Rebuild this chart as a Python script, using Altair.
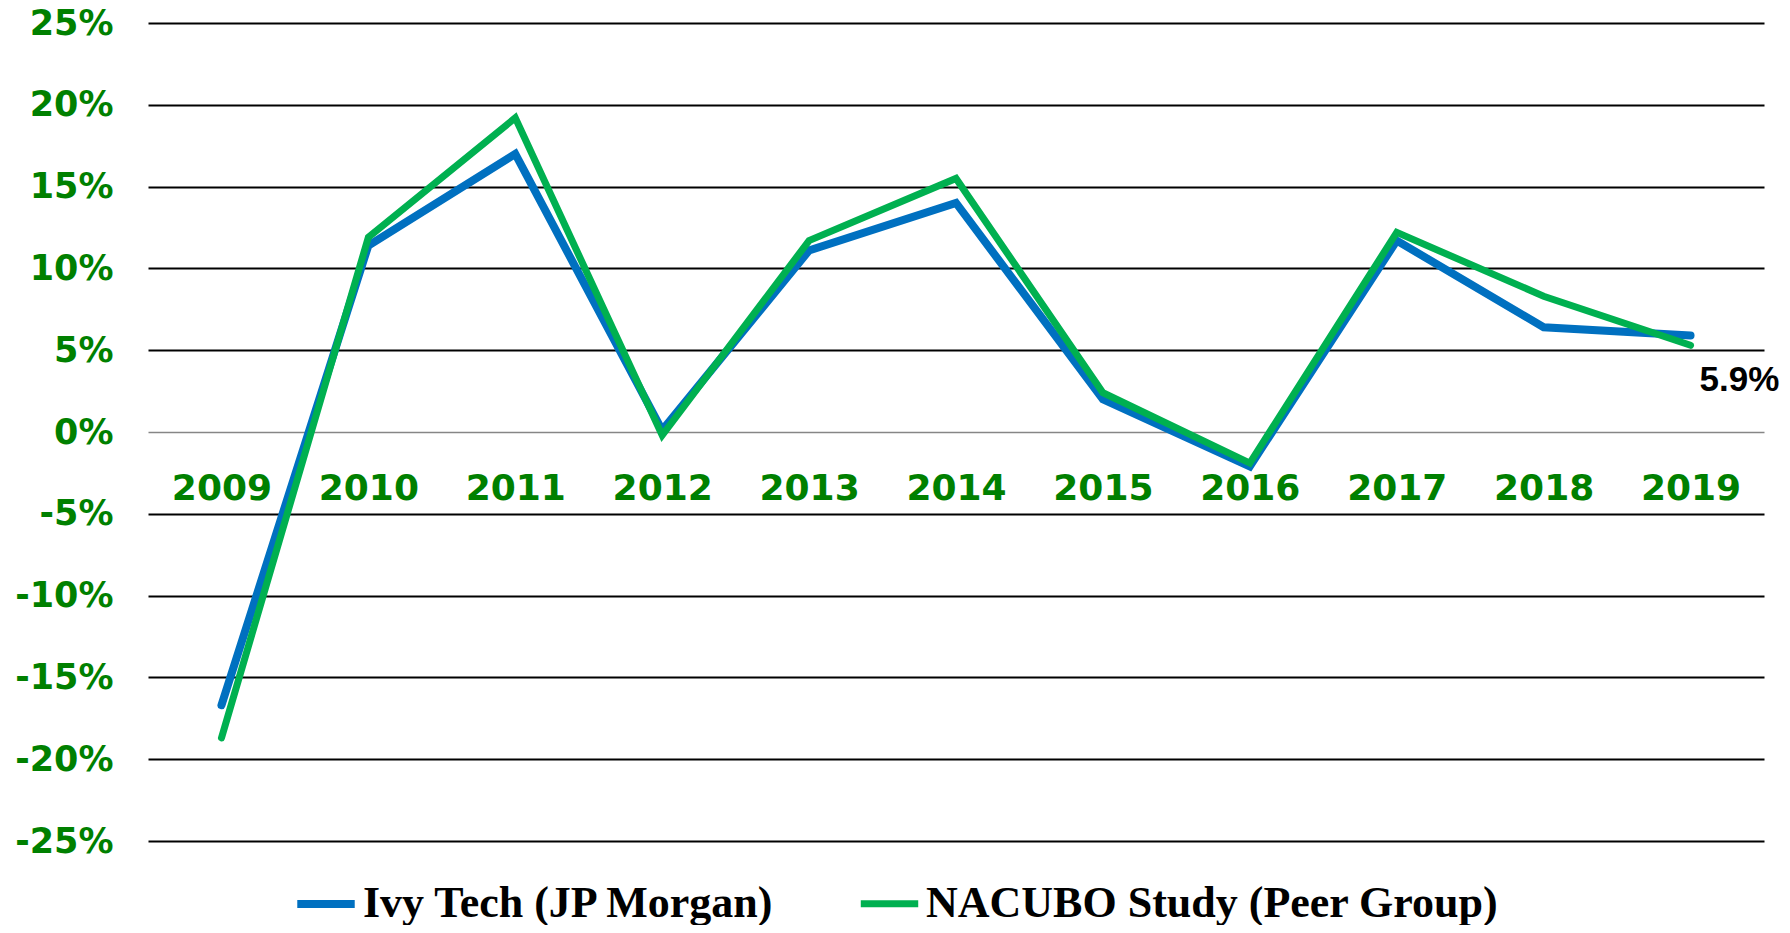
import altair as alt
import pandas as pd

years = ["2009", "2010", "2011", "2012", "2013", "2014", "2015", "2016", "2017", "2018", "2019"]
series_names = ["Ivy Tech (JP Morgan)", "NACUBO Study (Peer Group)"]
ivy_tech = [-16.7, 11.4, 17.0, 0.1, 11.1, 14.0, 2.0, -2.1, 11.7, 6.4, 5.9]
nacubo = [-18.7, 11.9, 19.2, -0.2, 11.7, 15.5, 2.4, -1.9, 12.2, 8.3, 5.3]
colors = ["#0070C0", "#00B050"]
widths = [8, 7]
y_ticks = [-25, -20, -15, -10, -5, 0, 5, 10, 15, 20, 25]
last_label = "5.9%"

rows = []
for name, vals in zip(series_names, [ivy_tech, nacubo]):
    for yr, v in zip(years, vals):
        rows.append({"year": yr, "value": v, "series": name})
df = pd.DataFrame(rows)
label_df = pd.DataFrame([{"year": years[-1], "value": ivy_tech[-1], "text": last_label}])

x_enc = alt.X(
    "year:O",
    scale=alt.Scale(type="point", padding=0.5, domain=years),
    axis=alt.Axis(
        title=None, orient="bottom", offset=-409, labelAngle=0,
        labelFont="DejaVu Sans", labelFontWeight="bold", labelFontSize=36,
        labelColor="#008000", labelPadding=39, ticks=False, tickSize=0,
        domain=True, domainColor="#868686", domainWidth=1.5, grid=False,
    ),
)
y_enc = alt.Y(
    "value:Q",
    scale=alt.Scale(domain=[-25, 25], nice=False, zero=False),
    axis=alt.Axis(
        title=None, values=y_ticks, labelExpr="datum.value + '%'",
        labelFont="DejaVu Sans", labelFontWeight="bold", labelFontSize=35,
        labelColor="#008000", labelPadding=35, ticks=False, tickSize=0,
        domain=False, grid=True, gridColor="black", gridWidth=2,
        gridOpacity={"condition": {"test": "datum.value === 0", "value": 0}, "value": 1},
    ),
)

lines = alt.Chart(df).mark_line(strokeCap="round", strokeJoin="miter").encode(
    x=x_enc,
    y=y_enc,
    color=alt.Color(
        "series:N",
        scale=alt.Scale(domain=series_names, range=colors),
        legend=alt.Legend(
            title=None, orient="none", direction="horizontal",
            legendX=145, legendY=848, padding=0,
            symbolType="stroke", symbolSize=3300, symbolStrokeWidth=9,
            labelFont="Liberation Serif", labelFontWeight="bold", labelFontSize=44,
            labelColor="black", labelOffset=4, columnPadding=70,
            labelLimit=1000,
        ),
    ),
    strokeWidth=alt.StrokeWidth(
        "series:N", scale=alt.Scale(domain=series_names, range=widths), legend=None
    ),
)

label = alt.Chart(label_df).mark_text(
    align="left", baseline="middle", dx=9, dy=45,
    font="Liberation Sans", fontWeight="bold", fontSize=35, color="black",
).encode(
    x=alt.X("year:O", scale=alt.Scale(type="point", padding=0.5, domain=years)),
    y=alt.Y("value:Q"),
    text="text:N",
)

chart = alt.layer(lines, label).properties(
    width=1616, height=818,
    autosize=alt.AutoSizeParams(type="none"),
    padding={"left": 140, "top": 15, "right": 18, "bottom": 84},
).configure_view(stroke=None)

chart.save("out.html", embed_options={"renderer": "svg", "actions": False})
